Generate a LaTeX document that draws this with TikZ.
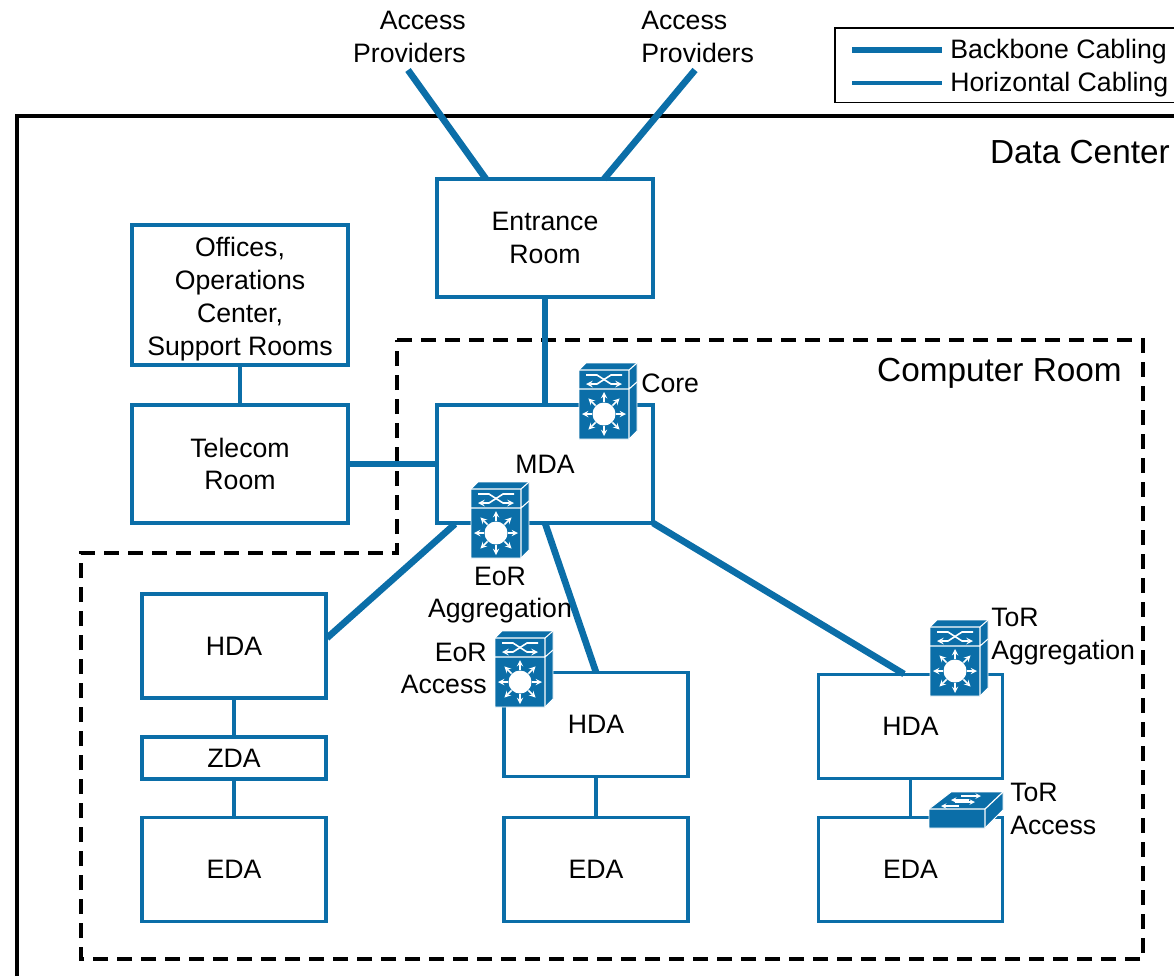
\documentclass[tikz,border=0pt]{standalone}
\usepackage{fontspec}
\setmainfont{Liberation Sans}
\definecolor{cable}{HTML}{0B6EA8}
\tikzset{
  lbl/.style={inner sep=0pt,font=\fontsize{20}{24.6}\selectfont},
  biglbl/.style={inner sep=0pt,font=\fontsize{25}{30}\selectfont},
  room/.style={draw=cable,fill=white,line width=2.3pt,outer sep=0pt,align=center,inner sep=0pt,
    font=\fontsize{20}{24.6}\selectfont,minimum width=162pt},
  area/.style={room,minimum width=138pt},
  backbone/.style={draw=cable,line width=5pt},
  horizontal/.style={draw=cable,line width=2.3pt},
  pics/mls/.style={code={
    \filldraw[cable,draw=white,line width=.7pt,line join=round] (0,7) -- (7,0) -- (58,0) -- (58,68) -- (50,76) -- (0,76) -- cycle;
    \draw[white,line width=.8pt] (0,7) -- (50,7) -- (50,76) (50,7) -- (58,0) (0,26) -- (50,26) -- (58,19);
    \fill[white] (25,51) circle (11.5);
    \foreach \a in {0,45,...,315}
      \draw[white,line width=1.1pt,-stealth] (25,51) ++(\a:12) -- ++(\a:10);
    \draw[white,line width=1.2pt,-stealth] (7,12) -- (18,12) -- (32,21) -- (43,21);
    \draw[white,line width=1.2pt,-stealth] (43,12) -- (32,12) -- (18,21) -- (7,21);
  }},
  pics/tor/.style={code={
    \filldraw[cable,draw=white,line width=.7pt,line join=round] (0,17) -- (22,0) -- (74,0) -- (74,18) -- (56,36) -- (0,36) -- cycle;
    \draw[white,line width=.9pt] (0,17) -- (56,17) -- (56,36) (56,17) -- (74,0);
    \draw[white,line width=.8pt,-stealth] (32,4) -- (52,4);
    \draw[white,line width=.8pt,-stealth] (40,8) -- (22,8);
    \draw[white,line width=.8pt,-stealth] (26,10) -- (46,10);
    \draw[white,line width=.8pt,-stealth] (30,14) -- (12,14);
  }}
}
\begin{document}
\begin{tikzpicture}[x=0.75pt,y=-0.75pt]
\useasboundingbox (0,0) rectangle (1174,976);

% Data Center
\draw[line width=2.4pt] (17,976) -- (17,116) -- (1174,116);
\node[biglbl,anchor=east] (dctext) at (1170,152) {Data Center};

% Computer Room
\draw[line width=2.5pt,dash pattern=on 11pt off 7pt] (397,340) -- (1143,340) -- (1143,959) -- (81,959) -- (81,553) -- (397,553) -- cycle;
\node[biglbl,anchor=east] (crtext) at (1122,373) {Computer Room};

% Legend
\node[draw,line width=1pt,minimum width=270pt,minimum height=56pt,anchor=north west,outer sep=0pt] (legend) at (835,28) {};
\coordinate (bbA) at (852,50);
\coordinate (bbB) at (942,50);
\coordinate (hzA) at (852,83);
\coordinate (hzB) at (942,83);
\draw[backbone] (bbA) -- (bbB);
\draw[horizontal] (hzA) -- (hzB);
\node[lbl,anchor=west] (bbtext) at (950,51.5) {Backbone Cabling};
\node[lbl,anchor=west] (hztext) at (950,84.5) {Horizontal Cabling};

% Access Providers
\node[lbl,align=right,anchor=east] (provA) at (466,37) {Access\\Providers};
\node[lbl,align=left,anchor=west] (provB) at (641,37) {Access\\Providers};
\coordinate (provAend) at (408,70);
\coordinate (provBend) at (695,70);
\coordinate (entrA) at (486,179);
\coordinate (entrB) at (604,179);

% Rooms
\node[room,minimum height=88.5pt] (entrance) at (545,238) {Entrance\\Room};
\node[room,minimum height=105pt,text height=94.5pt] (offices) at (240,295) {Offices,\\Operations\\Center,\\Support Rooms};
\node[room,minimum height=88.5pt] (telecom) at (240,464) {Telecom\\Room};
\node[room,minimum height=88.5pt] (mda) at (545,464) {MDA};

% Areas
\node[area,minimum height=78pt] (hdaA) at (234,646) {HDA};
\node[area,minimum height=31.5pt] (zda) at (234,758) {ZDA};
\node[area,minimum height=77.5pt] (edaA) at (234,869.5) {EDA};
\node[area,minimum height=78.5pt] (hdaB) at (596,724.5) {HDA};
\node[area,minimum height=77.5pt] (edaB) at (596,869.5) {EDA};
\node[area,minimum height=78.5pt] (hdaC) at (910.5,726.5) {HDA};
\node[area,minimum height=77.5pt] (edaC) at (910.5,869.5) {EDA};

% Backbone cabling
\coordinate (mdaA) at (455,524);
\coordinate (hdaAin) at (327,638);
\coordinate (hdaCin) at (904,674);
\draw[backbone] (provAend) -- (entrA);
\draw[backbone] (provBend) -- (entrB);
\draw[backbone] (entrance) -- (mda);
\draw[backbone] (telecom) -- (mda);
\draw[backbone] (mdaA) -- (hdaAin);
\draw[backbone] (mda.south) -- (hdaB.north);
\draw[backbone] (mda.south east) -- (hdaCin);

% Horizontal cabling
\draw[horizontal] (offices) -- (telecom);
\draw[horizontal] (hdaA) -- (zda);
\draw[horizontal] (zda) -- (edaA);
\draw[horizontal] (hdaB) -- (edaB);
\draw[horizontal] (hdaC) -- (edaC);

% Switches
\pic (coreSw) at (579,363) {mls};
\pic (eorAgg) at (471,482) {mls};
\pic (eorAcc) at (495,631) {mls};
\pic (torAgg) at (930,620) {mls};
\pic (torAcc) at (929,792) {tor};

% Switch labels
\node[lbl,anchor=west] (coretext) at (641,383) {Core};
\node[lbl,align=center] (eoragtext) at (500,595) {EoR\\Aggregation};
\node[lbl,align=right,anchor=east] (eoractext) at (487,668.5) {EoR\\Access};
\node[lbl,align=left,anchor=west] (toragtext) at (991,636.5) {ToR\\Aggregation};
\node[lbl,align=left,anchor=west] (toractext) at (1010,809) {ToR\\Access};
\end{tikzpicture}
\end{document}
